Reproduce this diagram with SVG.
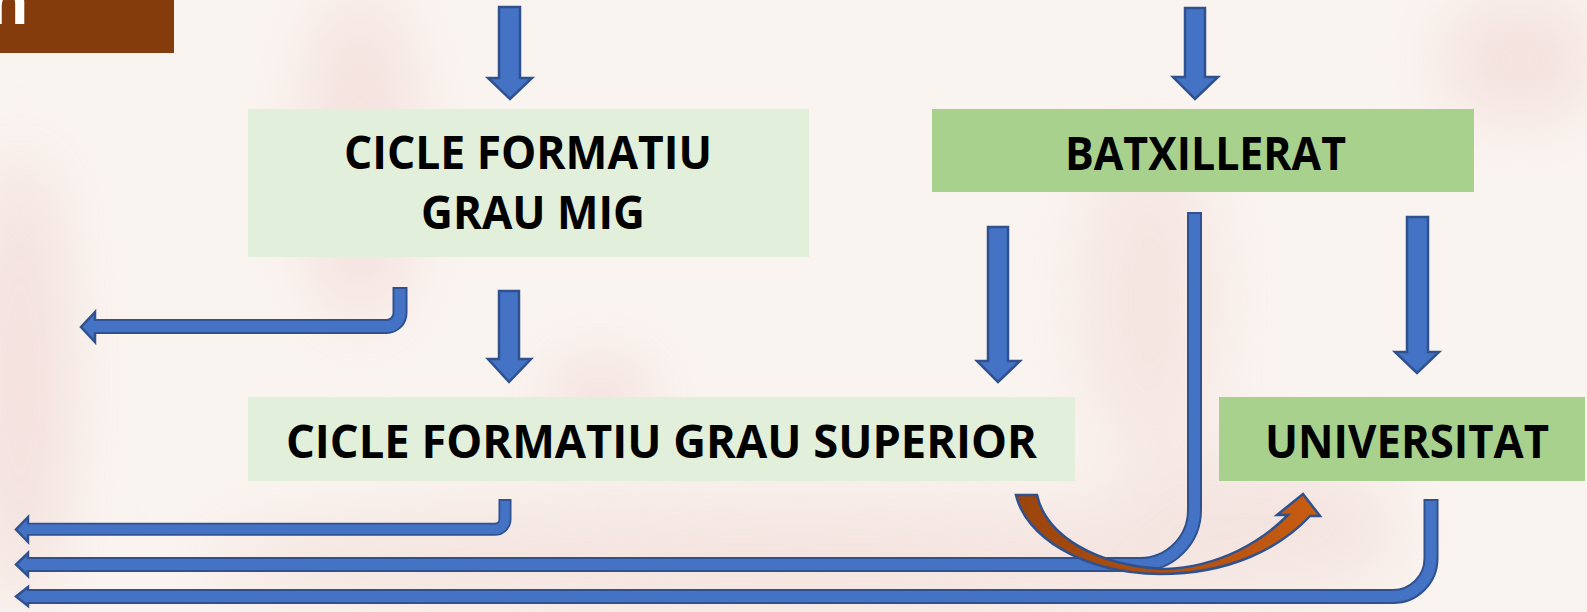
<svg xmlns="http://www.w3.org/2000/svg" width="1587" height="612" viewBox="0 0 1587 612">
<style>
.box-light{fill:#e2efda}
.box-dark{fill:#a9d18e}
.lbl{font-family:"Open Sans","Liberation Sans",Arial,sans-serif;font-weight:700;font-size:47px;fill:#000}
.arr{fill:#4472c4;stroke:#2f528f;stroke-width:2.5;stroke-linejoin:miter}
.lo{fill:none;stroke:#2f528f;stroke-linecap:butt}
.li{fill:none;stroke:#4472c4;stroke-linecap:butt}
</style>
<defs>
<filter id="blur" x="-50%" y="-50%" width="200%" height="200%"><feGaussianBlur stdDeviation="35"/></filter>
<linearGradient id="og" x1="1016" y1="0" x2="1320" y2="0" gradientUnits="userSpaceOnUse">
<stop offset="0" stop-color="#9a440d"/><stop offset="1" stop-color="#c85c12"/>
</linearGradient>
</defs>
<g id="background">
<rect x="0" y="0" width="1587" height="612" fill="#faf4f0"/>
<g filter="url(#blur)" opacity="0.8">
<ellipse cx="20" cy="380" rx="45" ry="230" fill="#f1d9d6"/>
<ellipse cx="360" cy="160" rx="55" ry="170" fill="#f3dcd8"/>
<ellipse cx="600" cy="400" rx="50" ry="40" fill="#f1d6d3"/>
<ellipse cx="800" cy="560" rx="600" ry="60" fill="#f3e0dc"/>
<ellipse cx="1150" cy="300" rx="70" ry="160" fill="#f4e2de"/>
<ellipse cx="1520" cy="60" rx="80" ry="60" fill="#f2dcd8"/>
<ellipse cx="1250" cy="520" rx="150" ry="70" fill="#f3e1dd"/>
</g>
</g>
<g id="title-tab">
<rect x="0" y="0" width="174" height="53" fill="#843c0c"/>
<text x="-12" y="24" font-family="Liberation Sans,Arial,sans-serif" font-weight="700" font-size="66" fill="#ffffff">n</text>
</g>
<g id="node-grau-mig">
<rect class="box-light" x="248" y="109" width="561" height="148"/>
<text class="lbl" x="344" y="169" textLength="368" lengthAdjust="spacingAndGlyphs">CICLE FORMATIU</text>
<text class="lbl" x="421" y="229" textLength="224" lengthAdjust="spacingAndGlyphs">GRAU MIG</text>
</g>
<g id="node-batxillerat">
<rect class="box-dark" x="932" y="109" width="542" height="83"/>
<text class="lbl" x="1065" y="170" textLength="281" lengthAdjust="spacingAndGlyphs">BATXILLERAT</text>
</g>
<g id="node-grau-superior">
<rect class="box-light" x="248" y="397" width="827" height="84"/>
<text class="lbl" x="286" y="458" textLength="751" lengthAdjust="spacingAndGlyphs">CICLE FORMATIU GRAU SUPERIOR</text>
</g>
<g id="node-universitat">
<rect class="box-dark" x="1219" y="397" width="366" height="84"/>
<text class="lbl" x="1265" y="458" textLength="284" lengthAdjust="spacingAndGlyphs">UNIVERSITAT</text>
</g>
<g id="connectors">
<polygon class="arr" points="499,7 520,7 520,78 532,78 510,99 488,78 499,78"/>
<polygon class="arr" points="1185,8 1205,8 1205,77 1218,77 1195,99 1173,77 1185,77"/>
<polygon class="arr" points="499,291 519,291 519,359 531,359 509,382 488,359 499,359"/>
<polygon class="arr" points="988,227 1008,227 1008,361 1020,361 998,382 977,361 988,361"/>
<polygon class="arr" points="1407,217 1428,217 1428,352 1439,352 1417,373 1395,352 1407,352"/>
<!-- bent arrow from grau mig -->
<path class="lo" stroke-width="15" d="M400,287 V313 A13.5,13.5 0 0 1 386.5,326.5 H95"/>
<polygon class="arr" points="95,312 81,327 95,342"/>
<path class="li" stroke-width="11" d="M400,289 V313 A13.5,13.5 0 0 1 386.5,326.5 H93"/>
<!-- bent arrow from grau superior -->
<path class="lo" stroke-width="13" d="M505,499 V519 A10.3,10.3 0 0 1 494.7,529.3 H28"/>
<polygon class="arr" points="28,517 16,529.5 28,542"/>
<path class="li" stroke-width="9.5" d="M505,501 V519 A10.3,10.3 0 0 1 494.7,529.3 H26"/>
<!-- bent line from universitat -->
<path class="lo" stroke-width="15" d="M1431,499 V558.5 A38,38 0 0 1 1393,596.5 H28"/>
<polygon class="arr" points="28,587 16,596.5 28,606"/>
<path class="li" stroke-width="11" d="M1431,501 V558.5 A38,38 0 0 1 1393,596.5 H26"/>
<!-- bent line from batxillerat -->
<path class="lo" stroke-width="15" d="M1194.5,212 V510 A54.5,54.5 0 0 1 1140,564.5 H28"/>
<polygon class="arr" points="28,553 16,564.5 28,576"/>
<path class="li" stroke-width="11" d="M1194.5,214 V510 A54.5,54.5 0 0 1 1140,564.5 H26"/>
<!-- curved orange arrow -->
<path fill="url(#og)" stroke="#2f528f" stroke-width="2.5" stroke-linejoin="miter" d="M1016,495 C1025,535 1080,573 1160,574 C1230,574 1280,548 1310,516 L1320,516 L1303,494 L1277,515 L1288,515 C1262,541 1220,567 1165,569 C1095,566 1046,535 1037,495 Z"/>
</g>
</svg>
